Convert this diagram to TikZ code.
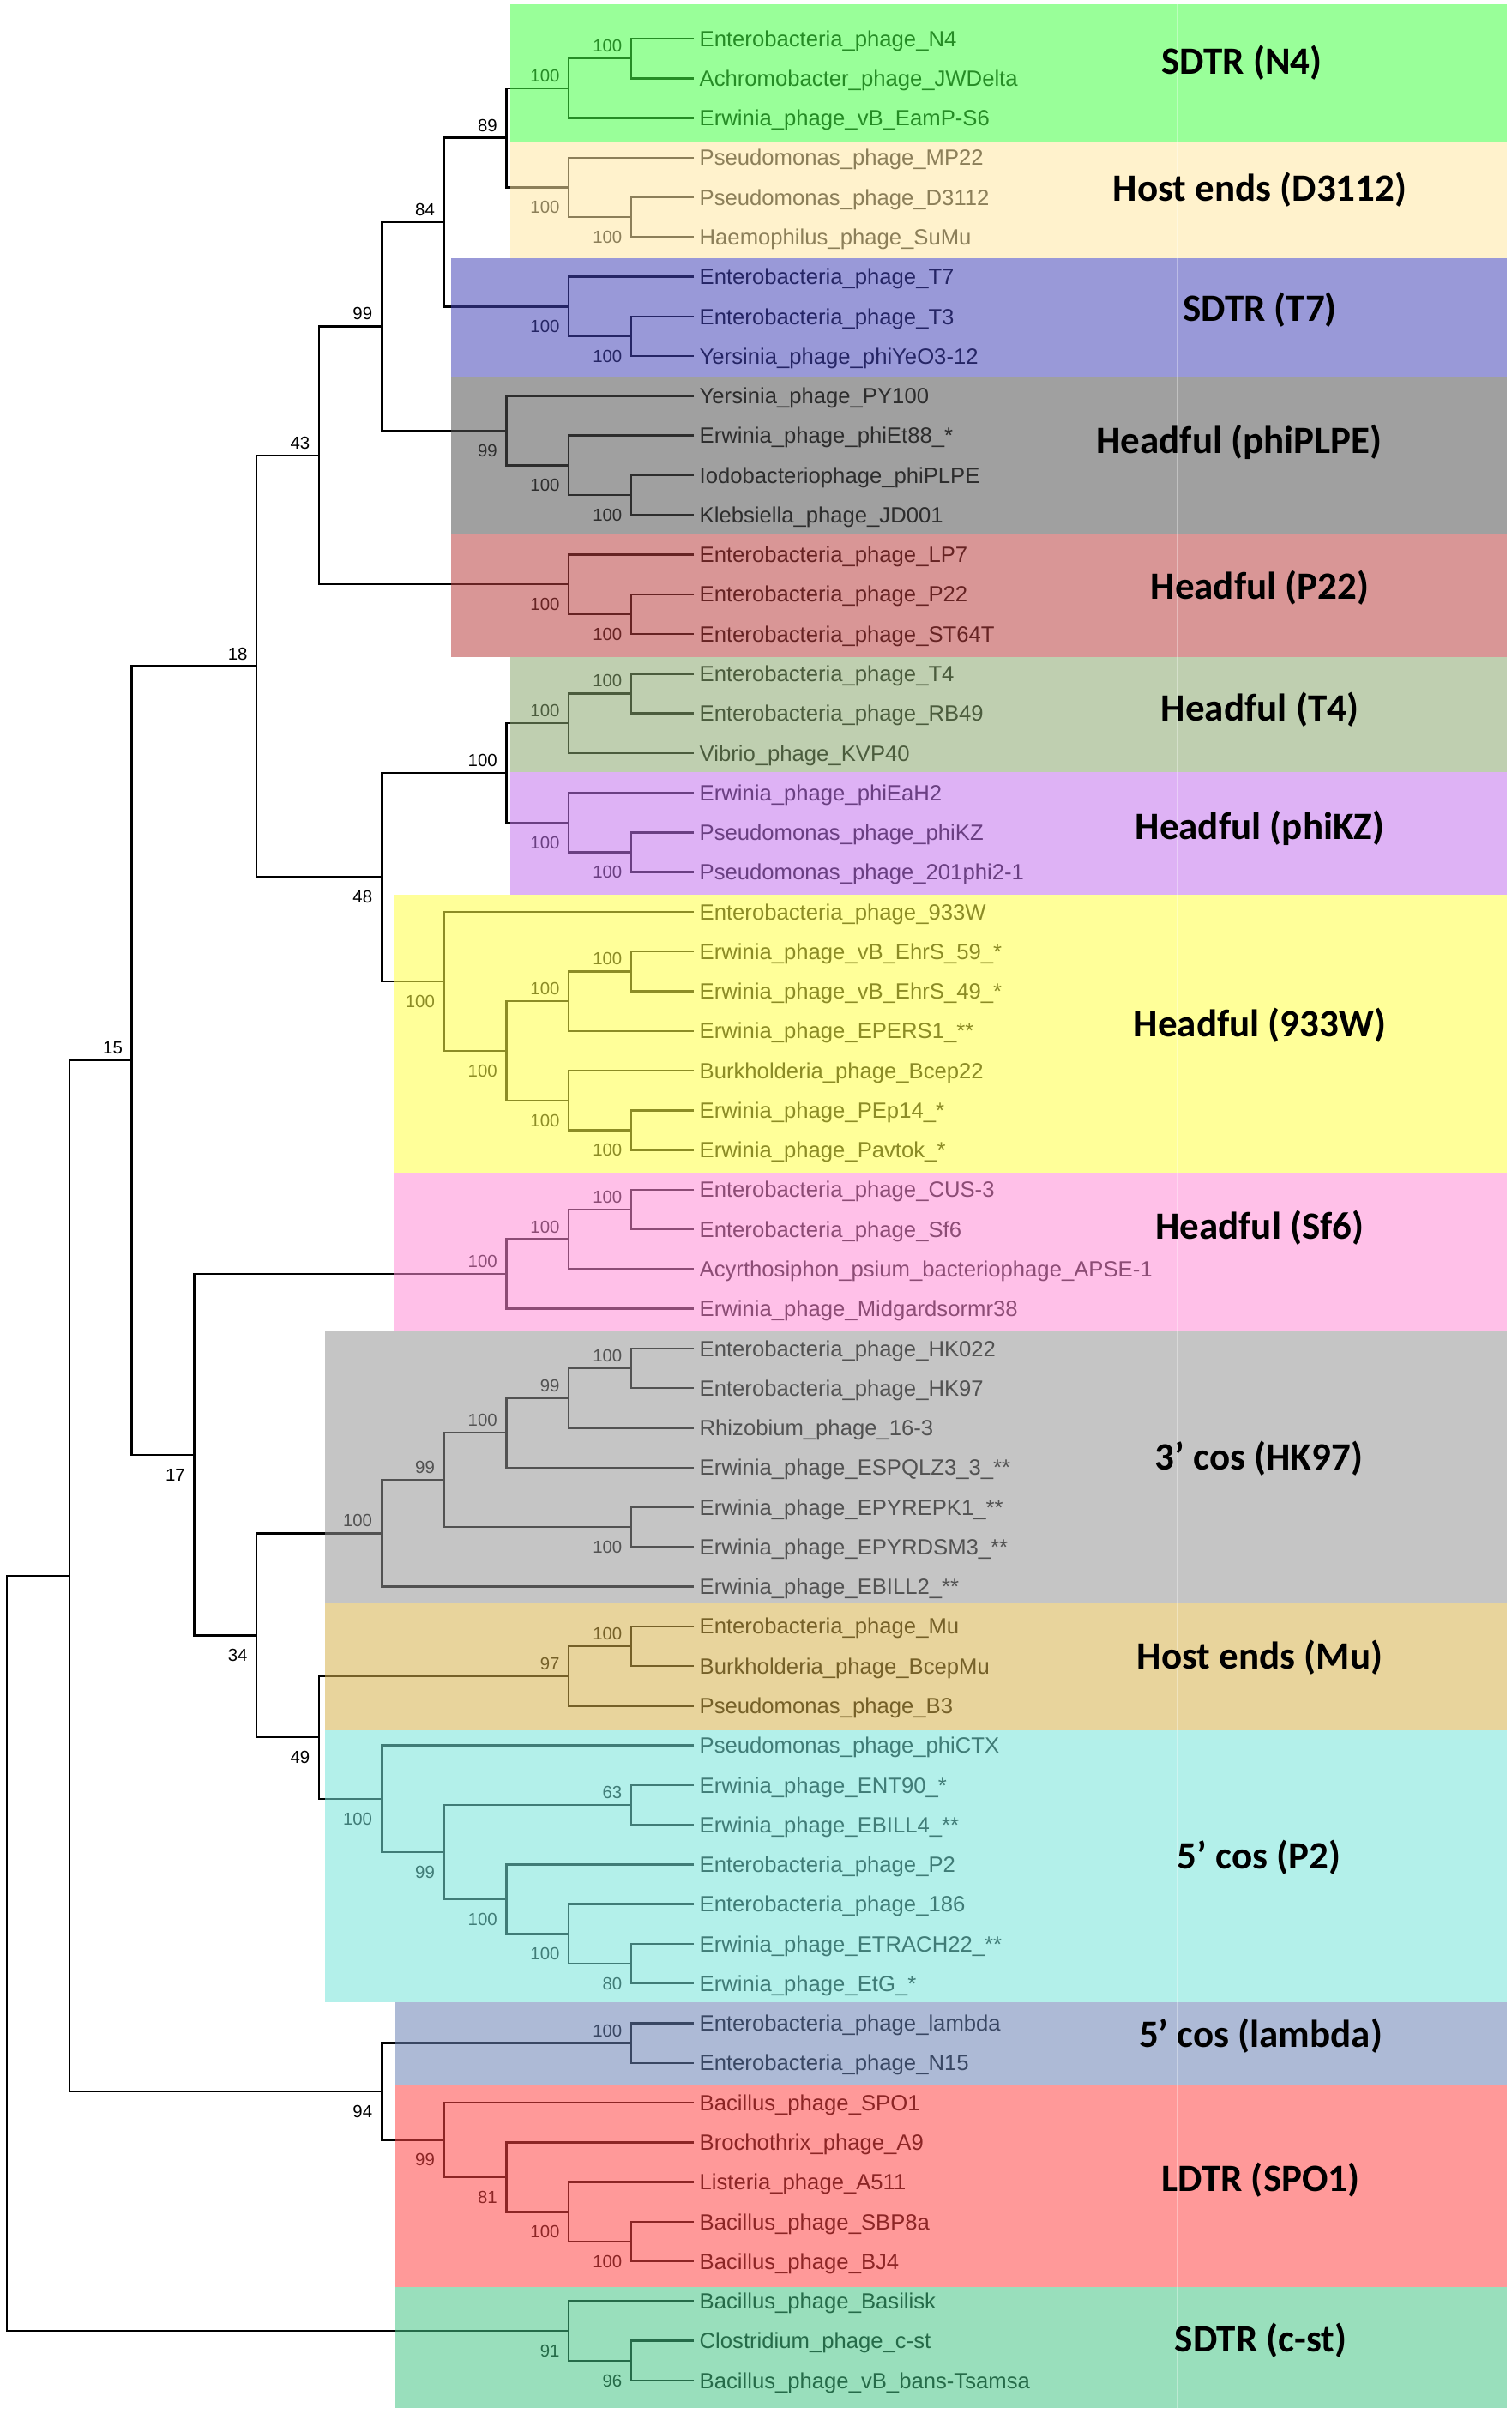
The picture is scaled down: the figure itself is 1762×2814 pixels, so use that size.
\documentclass[tikz,border=0pt]{standalone}
\usepackage{fontspec}
\setmainfont{Liberation Sans}
\newfontfamily\gruppenschrift{Carlito}
\usepackage{tikz}
\usetikzlibrary{calc,positioning}

% Farben der Kaesten (werden mit Deckkraft 0.55 ueber den Baum gelegt)
\definecolor{cN4}{rgb}{0.27,1,0.27}
\definecolor{cD3112}{rgb}{1,0.91,0.64}
\definecolor{cT7}{rgb}{0.27,0.27,0.72}
\definecolor{cPLPE}{rgb}{0.32,0.32,0.32}
\definecolor{cP22}{rgb}{0.73,0.25,0.25}
\definecolor{cT4}{rgb}{0.54,0.66,0.44}
\definecolor{cKZ}{rgb}{0.76,0.45,0.93}
\definecolor{cW}{rgb}{1,1,0.27}
\definecolor{cSf}{rgb}{1,0.55,0.84}
\definecolor{cHK}{rgb}{0.59,0.59,0.59}
\definecolor{cMu}{rgb}{0.84,0.69,0.29}
\definecolor{cPz}{rgb}{0.46,0.89,0.85}
\definecolor{cLam}{rgb}{0.41,0.51,0.71}
\definecolor{cSPO}{rgb}{1,0.27,0.27}
\definecolor{cCst}{rgb}{0.27,0.77,0.52}

\tikzset{
  ast/.style={black,line width=0.7pt},
  blatt/.style={anchor=west,inner sep=1.7pt,font=\fontsize{7.3}{8}\selectfont,text height=5.2pt,text depth=0pt},
  bw/.style={anchor=east,inner sep=0pt,font=\fontsize{5.8}{6}\selectfont,text height=4.2pt,text depth=0pt},
  gruppe/.style={inner sep=0pt,font=\gruppenschrift\bfseries\fontsize{12.8}{14}\selectfont,text height=8.2pt,text depth=0pt}
}

% Knoten in der Mitte seiner beiden Kinder, auf Ebene #2
\newcommand{\zweig}[4]{%
  \path ($(#3)!0.5!(#4)$) coordinate (hilf);
  \coordinate (#1) at (hilf -| L#2);
  \draw[ast] (#3) -| (#1) |- (#4);
}
% Bootstrapwerte oben / unten
\newcommand{\bwo}[2]{\node[bw] (bw#1) at ($(#1)+(-10,-15)$) {#2};}
\newcommand{\bwu}[2]{\node[bw] (bw#1) at ($(#1)+(-10,23)$) {#2};}

\begin{document}
\begin{tikzpicture}[x=0.01cm,y=-0.01cm]
%Masse in Pixeln des Originals: Ebenenabstand und Blattabstand
  \pgfmathsetmacro{\dX}{72.8}
  \pgfmathsetmacro{\dY}{46.27}
\useasboundingbox (0,0) rectangle (1762,2814);
\foreach \lev in {0,...,10}{
\coordinate (L\lev) at ({8+\dX*\lev},0);
}
%Blaetter
\foreach \name [count=\i] in {Enterobacteria\_phage\_N4, Achromobacter\_phage\_JWDelta, Erwinia\_phage\_vB\_EamP-S6,
  Pseudomonas\_phage\_MP22, Pseudomonas\_phage\_D3112, Haemophilus\_phage\_SuMu,
  Enterobacteria\_phage\_T7, Enterobacteria\_phage\_T3, Yersinia\_phage\_phiYeO3-12,
  Yersinia\_phage\_PY100, Erwinia\_phage\_phiEt88\_*, Iodobacteriophage\_phiPLPE, Klebsiella\_phage\_JD001,
  Enterobacteria\_phage\_LP7, Enterobacteria\_phage\_P22, Enterobacteria\_phage\_ST64T,
  Enterobacteria\_phage\_T4, Enterobacteria\_phage\_RB49, Vibrio\_phage\_KVP40,
  Erwinia\_phage\_phiEaH2, Pseudomonas\_phage\_phiKZ, Pseudomonas\_phage\_201phi2-1,
  Enterobacteria\_phage\_933W, Erwinia\_phage\_vB\_EhrS\_59\_*, Erwinia\_phage\_vB\_EhrS\_49\_*, Erwinia\_phage\_EPERS1\_**,
  Burkholderia\_phage\_Bcep22, Erwinia\_phage\_PEp14\_*, Erwinia\_phage\_Pavtok\_*,
  Enterobacteria\_phage\_CUS-3, Enterobacteria\_phage\_Sf6, Acyrthosiphon\_psium\_bacteriophage\_APSE-1, Erwinia\_phage\_Midgardsormr38,
  Enterobacteria\_phage\_HK022, Enterobacteria\_phage\_HK97, Rhizobium\_phage\_16-3, Erwinia\_phage\_ESPQLZ3\_3\_**,
  Erwinia\_phage\_EPYREPK1\_**, Erwinia\_phage\_EPYRDSM3\_**, Erwinia\_phage\_EBILL2\_**,
  Enterobacteria\_phage\_Mu, Burkholderia\_phage\_BcepMu, Pseudomonas\_phage\_B3,
  Pseudomonas\_phage\_phiCTX, Erwinia\_phage\_ENT90\_*, Erwinia\_phage\_EBILL4\_**, Enterobacteria\_phage\_P2,
  Enterobacteria\_phage\_186, Erwinia\_phage\_ETRACH22\_**, Erwinia\_phage\_EtG\_*,
  Enterobacteria\_phage\_lambda, Enterobacteria\_phage\_N15,
  Bacillus\_phage\_SPO1, Brochothrix\_phage\_A9, Listeria\_phage\_A511, Bacillus\_phage\_SBP8a, Bacillus\_phage\_BJ4,
  Bacillus\_phage\_Basilisk, Clostridium\_phage\_c-st, Bacillus\_phage\_vB\_bans-Tsamsa}{
\node[blatt] (l\i) at (809,{45+\dY*(\i-1)}) {\name};
}
%Baum
\zweig{a1}{10}{l1.west}{l2.west} \bwo{a1}{100}
\zweig{a2}{9}{a1}{l3.west} \bwo{a2}{100}
\zweig{a3a}{10}{l5.west}{l6.west} \bwu{a3a}{100}
\zweig{a3}{9}{l4.west}{a3a} \bwu{a3}{100}
\zweig{a4}{8}{a2}{a3} \bwo{a4}{89}
\zweig{t1}{10}{l8.west}{l9.west} \bwu{t1}{100}
\zweig{t2}{9}{l7.west}{t1} \bwu{t2}{100}
\zweig{a5}{7}{a4}{t2} \bwo{a5}{84}
\zweig{p1}{10}{l12.west}{l13.west} \bwu{p1}{100}
\zweig{p2}{9}{l11.west}{p1} \bwu{p2}{100}
\zweig{p3}{8}{l10.west}{p2} \bwu{p3}{99}
\zweig{a6}{6}{a5}{p3} \bwo{a6}{99}
\zweig{q1}{10}{l15.west}{l16.west} \bwu{q1}{100}
\zweig{q2}{9}{l14.west}{q1} \bwu{q2}{100}
\zweig{a7}{5}{a6}{q2} \bwo{a7}{43}
\zweig{r1}{10}{l17.west}{l18.west} \bwo{r1}{100}
\zweig{r2}{9}{r1}{l19.west} \bwo{r2}{100}
\zweig{k1}{10}{l21.west}{l22.west} \bwu{k1}{100}
\zweig{k2}{9}{l20.west}{k1} \bwu{k2}{100}
\zweig{r3}{8}{r2}{k2} \bwo{r3}{100}
\zweig{w1}{10}{l24.west}{l25.west} \bwo{w1}{100}
\zweig{w2}{9}{w1}{l26.west} \bwo{w2}{100}
\zweig{w3}{10}{l28.west}{l29.west} \bwu{w3}{100}
\zweig{w4}{9}{l27.west}{w3} \bwu{w4}{100}
\zweig{w5}{8}{w2}{w4} \bwu{w5}{100}
\zweig{w6}{7}{l23.west}{w5} \bwu{w6}{100}
\zweig{a8}{6}{r3}{w6} \bwu{a8}{48}
\zweig{a9}{4}{a7}{a8} \bwo{a9}{18}
\zweig{s1}{10}{l30.west}{l31.west} \bwo{s1}{100}
\zweig{s2}{9}{s1}{l32.west} \bwo{s2}{100}
\zweig{s3}{8}{s2}{l33.west} \bwo{s3}{100}
\zweig{h1}{10}{l34.west}{l35.west} \bwo{h1}{100}
\zweig{h2}{9}{h1}{l36.west} \bwo{h2}{99}
\zweig{h3}{8}{h2}{l37.west} \bwo{h3}{100}
\zweig{h4}{10}{l38.west}{l39.west} \bwu{h4}{100}
\zweig{h5}{7}{h3}{h4} \bwo{h5}{99}
\zweig{h6}{6}{h5}{l40.west} \bwo{h6}{100}
\zweig{m1}{10}{l41.west}{l42.west} \bwo{m1}{100}
\zweig{m2}{9}{m1}{l43.west} \bwo{m2}{97}
\zweig{c1}{10}{l45.west}{l46.west} \bwo{c1}{63}
\zweig{c2}{10}{l49.west}{l50.west} \bwu{c2}{80}
\zweig{c3}{9}{l48.west}{c2} \bwu{c3}{100}
\zweig{c4}{8}{l47.west}{c3} \bwu{c4}{100}
\zweig{c5}{7}{c1}{c4} \bwu{c5}{99}
\zweig{c6}{6}{l44.west}{c5} \bwu{c6}{100}
\zweig{a10}{5}{m2}{c6} \bwu{a10}{49}
\zweig{a11}{4}{h6}{a10} \bwu{a11}{34}
\zweig{a12}{3}{s3}{a11} \bwu{a12}{17}
\zweig{a13}{2}{a9}{a12} \bwo{a13}{15}
\zweig{d1}{10}{l51.west}{l52.west} \bwo{d1}{100}
\zweig{e1}{10}{l56.west}{l57.west} \bwu{e1}{100}
\zweig{e2}{9}{l55.west}{e1} \bwu{e2}{100}
\zweig{e3}{8}{l54.west}{e2} \bwu{e3}{81}
\zweig{e4}{7}{l53.west}{e3} \bwu{e4}{99}
\zweig{d2}{6}{d1}{e4} \bwu{d2}{94}
\zweig{a14}{1}{a13}{d2}
\zweig{f1}{10}{l59.west}{l60.west} \bwu{f1}{96}
\zweig{f2}{9}{l58.west}{f1} \bwu{f2}{91}
\zweig{wurzel}{0}{a14}{f2}
%Kaesten ueber den Baum legen
\foreach \farbe/\links/\oben/\unten in {cN4/595/5/166, cD3112/595/166/301, cT7/526/301/439, cPLPE/526/439/622,
  cP22/526/622/766, cT4/595/766/900, cKZ/595/900/1043, cW/459/1043/1367, cSf/459/1367/1551,
  cHK/379/1551/1869, cMu/379/1869/2017, cPz/379/2017/2334, cLam/461/2334/2431, cSPO/461/2431/2666, cCst/461/2666/2807}{
\fill[\farbe,fill opacity=0.55] (\links,\oben) rectangle (1757,\unten);
}
\draw[white,opacity=0.35,line width=0.4pt] (1373,5) -- (1373,2807);
%Gruppennamen
\foreach \txt/\gx/\gy [count=\g] in {SDTR (N4)/1448/72, Host ends (D3112)/1469/220, SDTR (T7)/1469/360,
  Headful (phiPLPE)/1445/514, Headful (P22)/1469/684, Headful (T4)/1469/826, Headful (phiKZ)/1469/964,
  Headful (933W)/1469/1194, Headful (Sf6)/1469/1430, 3’ cos (HK97)/1468/1699, Host ends (Mu)/1469/1931,
  5’ cos (P2)/1468/2164, 5’ cos (lambda)/1470/2372, LDTR (SPO1)/1470/2540, SDTR (c-st)/1470/2727}{
\node[gruppe] (g\g) at (\gx,\gy) {\txt};
}
\end{tikzpicture}
\end{document}
